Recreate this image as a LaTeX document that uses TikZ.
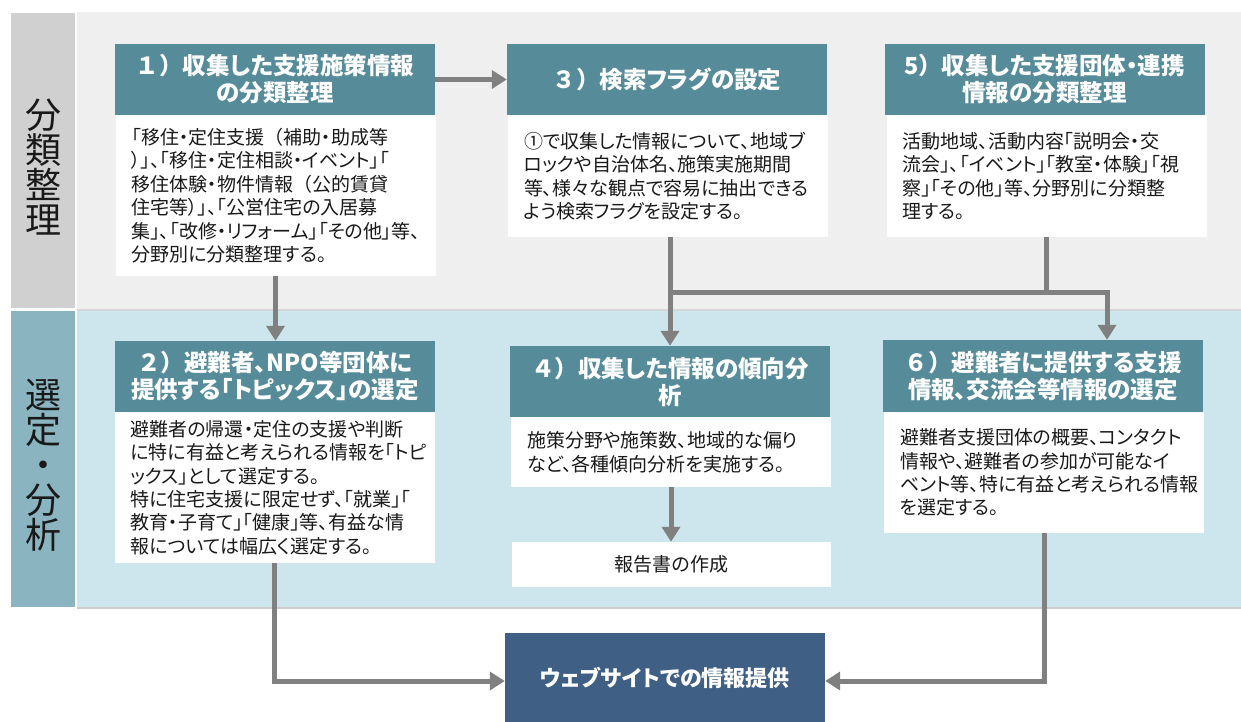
\documentclass[tikz,border=0pt]{standalone}
\usepackage{fontspec}
\setmainfont{Noto Sans CJK JP}[RawFeature=+palt]
\usetikzlibrary{arrows.meta,calc}
\definecolor{tealhead}{RGB}{86,140,154}
\definecolor{labtop}{RGB}{208,208,208}
\definecolor{labbot}{RGB}{139,180,193}
\definecolor{bandtop}{RGB}{239,239,239}
\definecolor{bandbot}{RGB}{205,230,237}
\definecolor{webblue}{RGB}{63,95,133}
\definecolor{arrgray}{RGB}{128,128,128}
\definecolor{txt}{RGB}{25,25,25}
\newcommand\hfnt{\fontsize{23.5}{27}\selectfont\bfseries}
\newcommand\bfnt{\fontsize{19}{23.4}\selectfont}
\newcommand\fw[1]{{\addfontfeature{RawFeature=-palt}#1}}
\tikzset{
  head/.style={fill=tealhead, text=white, font=\hfnt, align=center, minimum width=320pt, minimum height=71pt, inner sep=0pt},
  bodybox/.style={fill=white, text=txt, font=\bfnt, align=left, text width=288pt, inner xsep=16pt, inner ysep=0pt, anchor=north},
  lab/.style={text=txt, font=\fontsize{36}{35}\selectfont, align=center, inner sep=0pt},
  conn/.style={line width=5pt, draw=arrgray},
  arr/.style={conn, -{Triangle[length=15pt,width=18pt]}},
}
\begin{document}
\begin{tikzpicture}[x=1pt,y=-1pt]
\useasboundingbox (0,0) rectangle (1241,722);
\fill[white] (0,0) rectangle (1241,722);
% bands
\fill[bandtop] (77,12) rectangle (1241,309);
\fill[black!16] (77,309) rectangle (1241,311);
\fill[bandbot] (77,311) rectangle (1241,607);
\fill[black!20] (77,607) rectangle (1241,609);
\fill[labtop] (11,13) rectangle (75,308);
\fill[labbot] (11,311) rectangle (75,607);
\node[lab] (l1) at (43,167) {分\\類\\整\\理};
\node[lab] (l2) at (43,465) {選\\定\\・\\分\\析};
% row 1
\node[head] (h1) at (275,79.5) {\fw{１）}収集した支援施策情報\\の分類整理};
\node[bodybox, minimum height=161pt] (b1) at (275.5,115) {「移住・定住支援\fw{（}補助・助成等\\）」、「移住・定住相談・イベント」「\\移住体験・物件情報\fw{（}公的賃貸\\住宅等）」、「公営住宅の入居募\\集」、「改修・リフォーム」「その他」等、\\分野別に分類整理する。};
\node[head] (h3) at (667,79.5) {\fw{３）}検索フラグの設定};
\node[bodybox, minimum height=122pt] (b3) at (668,115) {①で収集した情報について、地域ブ\\ロックや自治体名、施策実施期間\\等、様々な観点で容易に抽出できる\\よう検索フラグを設定する。};
\node[head] (h5) at (1044.5,79.5) {5\fw{）}収集した支援団体・連携\\情報の分類整理};
\node[bodybox, minimum height=122pt] (b5) at (1046.5,115) {活動地域、活動内容「説明会・交\\流会」、「イベント」「教室・体験」「視\\察」「その他」等、分野別に分類整\\理する。};
% row 2
\node[head] (h2) at (275,376.5) {\fw{２）}避難者、NPO等団体に\\提供する「トピックス」の選定};
\node[bodybox, minimum height=151pt] (b2) at (274.5,412) {避難者の帰還・定住の支援や判断\\に特に有益と考えられる情報を「トピ\\ックス」として選定する。\\特に住宅支援に限定せず、「就業」「\\教育・子育て」「健康」等、有益な情\\報については幅広く選定する。};
\node[head] (h4) at (670,381.5) {\fw{４）}収集した情報の傾向分\\析};
\node[bodybox, minimum height=70pt] (b4) at (671,417) {施策分野や施策数、地域的な偏り\\など、各種傾向分析を実施する。};
\node[fill=white, text=txt, font=\bfnt, minimum width=319pt, minimum height=45pt, inner sep=0pt] (rep) at (671.5,564.5) {報告書の作成};
\node[head, minimum height=72pt] (h6) at (1043,376) {\fw{６）}避難者に提供する支援\\情報、交流会等情報の選定};
\node[bodybox, minimum height=121pt] (b6) at (1044,412) {避難者支援団体の概要、コンタクト\\情報や、避難者の参加が可能なイ\\ベント等、特に有益と考えられる情報\\を選定する。};
% website
\node[fill=webblue, text=white, font=\fontsize{22}{26}\selectfont\bfseries, minimum width=320pt, minimum height=89pt, inner sep=0pt] (web) at (665,677.5) {\raisebox{-3pt}{ウェブサイトでの情報提供}};
% connectors
\coordinate (jl) at (670,292);
\coordinate (jr) at (1107,292);
\draw[arr] (h1.east) -- (h3.west);
\draw[arr] (b1.south) -- (b1.south |- h2.north);
\draw[arr] (h4.north |- b3.south) -- (h4.north);
\draw[conn] (b5.south) -- (b5.south |- jl);
\draw[arr] (jl) -- (jr) -- (jr |- h6.north);
\draw[arr] (b4.south) -- (b4.south |- rep.north);
\draw[arr] (b2.south) |- ([yshift=-3.5pt]web.west);
\draw[arr] (b6.south) |- ([yshift=-3.5pt]web.east);
\end{tikzpicture}
\end{document}
